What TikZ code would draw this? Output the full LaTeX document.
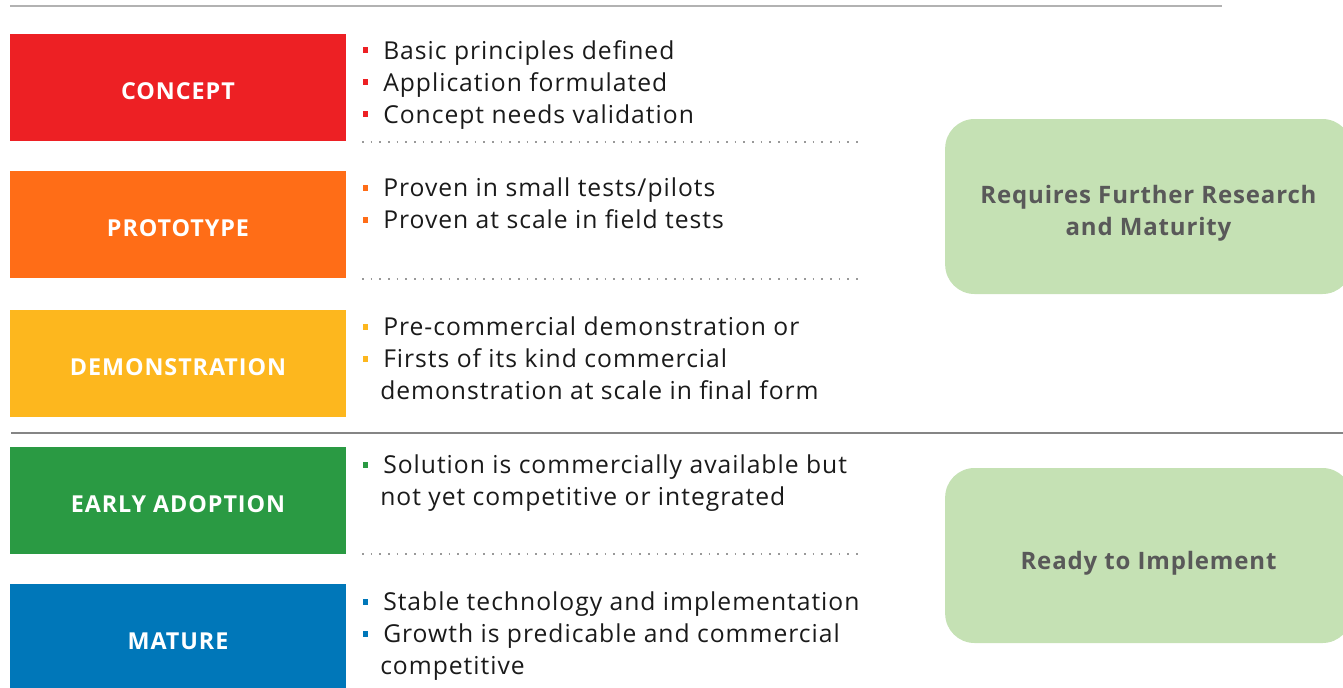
\documentclass[tikz,border=0pt]{standalone}
\usepackage{fontspec}
\setmainfont{Open Sans}
\newfontfamily\itemfont[LetterSpace=4]{Open Sans}
\newfontfamily\stagefont[LetterSpace=4]{Open Sans}
\newfontfamily\phasefont[LetterSpace=3.5]{Open Sans}
\definecolor{cred}{HTML}{ED2024}
\definecolor{corange}{HTML}{FF6D17}
\definecolor{cyellow}{HTML}{FDB71E}
\definecolor{cgreen}{HTML}{2A9A43}
\definecolor{cblue}{HTML}{0077B9}
\definecolor{cpale}{HTML}{C5E1B4}
\definecolor{ctext}{HTML}{1A1A1A}
\definecolor{cgreytext}{HTML}{595959}
\definecolor{cdot}{HTML}{999999}
\tikzset{
  x=0.75pt, y=-0.75pt,
  stage/.style={rectangle, fill=#1, minimum width=252pt, minimum height=80.25pt, inner sep=0pt,
    text height=18.5pt, text depth=0pt,
    text=white, font=\stagefont\fontsize{17.5}{20}\selectfont\bfseries},
  item/.style={anchor=base west, inner sep=0pt, text=ctext, font=\itemfont\fontsize{18.5}{24}\selectfont},
  bul/.style={rectangle, fill=#1, minimum size=3.9pt, inner sep=0pt},
  dotline/.style={draw=cdot, line width=1.3pt, dash pattern=on 1.2pt off 5.3pt},
  phase/.style={rectangle, rounded corners=22pt, fill=cpale, minimum width=305pt, minimum height=131.25pt,
    inner sep=0pt},
  phasetext/.style={text=cgreytext, align=center, inner sep=0pt,
    font=\phasefont\fontsize{18}{24}\selectfont\bfseries},
}
\begin{document}
\begin{tikzpicture}
\useasboundingbox (0,0) rectangle (1343,687);
% top rule
\coordinate (t1) at (10,6); \coordinate (t2) at (1222,6);
\draw[color=black!30, line width=1.1pt] (t1) -- (t2);
% separator
\coordinate (s1) at (11,433); \coordinate (s2) at (1343,433);
\draw[color=black!48, line width=1.6pt] (s1) -- (s2);

% stage boxes
\node[stage=cred]    (concept) at (178,87.5)  {CONCEPT};
\node[stage=corange] (proto)   at (178,224.5) {PROTOTYPE};
\node[stage=cyellow] (demo)    at (178,363.5) {DEMONSTRATION};
\node[stage=cgreen]  (early)   at (178,500.5) {EARLY ADOPTION};
\node[stage=cblue]   (mature)  at (178,637.5) {MATURE};

% phase boxes
\node[phase, label={[phasetext, yshift=-5.25pt]center:Requires Further Research\\and Maturity}] (req) at (1148.5,206.5) {};
\node[phase, label={[phasetext, yshift=-6pt]center:Ready to Implement}] (ready) at (1148.5,555.5) {};

% dotted separators
\coordinate (d1a) at (362,142); \coordinate (d1b) at (862,142);
\coordinate (d2a) at (362,279); \coordinate (d2b) at (862,279);
\coordinate (d3a) at (362,554); \coordinate (d3b) at (862,554);
\draw[dotline] (d1a) -- (d1b);
\draw[dotline] (d2a) -- (d2b);
\draw[dotline] (d3a) -- (d3b);

% concept items
\node[bul=cred] (bc1) at (365.5,50) {};
\node[item] (c1) at (383,59) {Basic principles defined};
\node[bul=cred] (bc2) at (365.5,82) {};
\node[item] (c2) at (383,91) {Application formulated};
\node[bul=cred] (bc3) at (365.5,114) {};
\node[item] (c3) at (383,123) {Concept needs validation};

% prototype items
\node[bul=corange] (bp1) at (365.5,188) {};
\node[item] (p1) at (383,196) {Proven in small tests/pilots};
\node[bul=corange] (bp2) at (365.5,220) {};
\node[item] (p2) at (383,228) {Proven at scale in field tests};

% demonstration items
\node[bul=cyellow] (bd1) at (365.5,327) {};
\node[item] (dm1) at (383,335) {Pre-commercial demonstration or};
\node[bul=cyellow] (bd2) at (365.5,359) {};
\node[item] (dm2) at (383,367) {Firsts of its kind commercial};
\node[item] (dm3) at (380,399) {demonstration at scale in final form};

% early adoption items
\node[bul=cgreen] (be1) at (365.5,465) {};
\node[item] (e1) at (383,473) {Solution is commercially available but};
\node[item] (e2) at (380,505) {not yet competitive or integrated};

% mature items
\node[bul=cblue] (bm1) at (365.5,602) {};
\node[item] (m1) at (383,610) {Stable technology and implementation};
\node[bul=cblue] (bm2) at (365.5,634) {};
\node[item] (m2) at (383,642) {Growth is predicable and commercial};
\node[item] (m3) at (380,674) {competitive};
\end{tikzpicture}
\end{document}
